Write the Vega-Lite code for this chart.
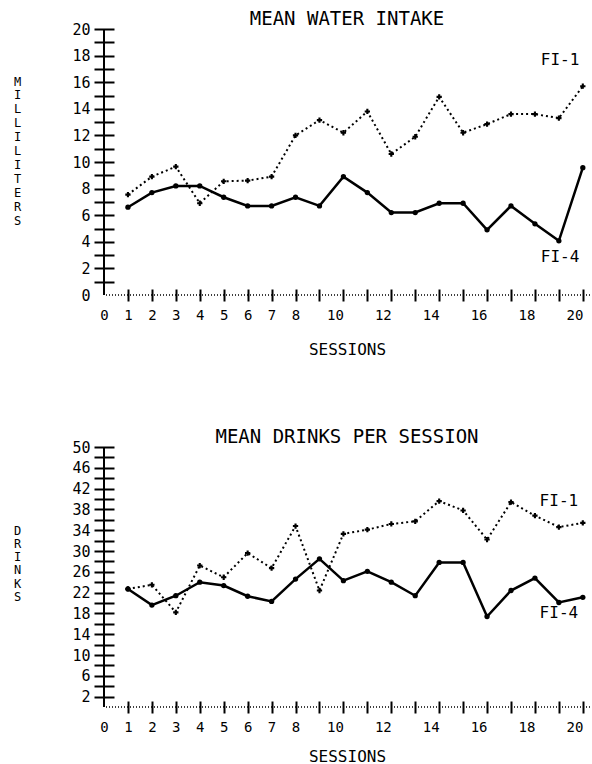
{
  "$schema": "https://vega.github.io/schema/vega-lite/v6.json",
  "padding": {"left": 13, "top": 10, "right": 0, "bottom": 0},
  "spacing": 71,
  "config": {
    "font": "DejaVu Sans Mono",
    "view": {"stroke": null},
    "title": {"font": "DejaVu Sans Mono", "fontSize": 19, "fontWeight": "normal", "color": "black", "offset": -7},
    "axis": {
      "labelFont": "DejaVu Sans Mono", "labelFontSize": 14, "labelColor": "black",
      "titleFont": "DejaVu Sans Mono", "titleFontSize": 16, "titleFontWeight": "normal", "titleColor": "black",
      "grid": false, "domain": false, "tickWidth": 2, "tickColor": "black", "labelOverlap": false, "labelFlush": false, "labelBound": false,
      "tickCount": 100, "format": "d"
    }
  },
  "datasets": {
    "water": [
      {"session": 1, "series": "FI-4", "value": 6.6},
      {"session": 2, "series": "FI-4", "value": 7.7},
      {"session": 3, "series": "FI-4", "value": 8.2},
      {"session": 4, "series": "FI-4", "value": 8.2},
      {"session": 5, "series": "FI-4", "value": 7.35},
      {"session": 6, "series": "FI-4", "value": 6.7},
      {"session": 7, "series": "FI-4", "value": 6.7},
      {"session": 8, "series": "FI-4", "value": 7.35},
      {"session": 9, "series": "FI-4", "value": 6.7},
      {"session": 10, "series": "FI-4", "value": 8.9},
      {"session": 11, "series": "FI-4", "value": 7.7},
      {"session": 12, "series": "FI-4", "value": 6.2},
      {"session": 13, "series": "FI-4", "value": 6.2},
      {"session": 14, "series": "FI-4", "value": 6.9},
      {"session": 15, "series": "FI-4", "value": 6.9},
      {"session": 16, "series": "FI-4", "value": 4.9},
      {"session": 17, "series": "FI-4", "value": 6.7},
      {"session": 18, "series": "FI-4", "value": 5.35},
      {"session": 19, "series": "FI-4", "value": 4.07},
      {"session": 20, "series": "FI-4", "value": 9.57},
      {"session": 1, "series": "FI-1", "value": 7.55},
      {"session": 2, "series": "FI-1", "value": 8.9},
      {"session": 3, "series": "FI-1", "value": 9.65},
      {"session": 4, "series": "FI-1", "value": 6.9},
      {"session": 5, "series": "FI-1", "value": 8.55},
      {"session": 6, "series": "FI-1", "value": 8.6},
      {"session": 7, "series": "FI-1", "value": 8.9},
      {"session": 8, "series": "FI-1", "value": 12.0},
      {"session": 9, "series": "FI-1", "value": 13.15},
      {"session": 10, "series": "FI-1", "value": 12.2},
      {"session": 11, "series": "FI-1", "value": 13.8},
      {"session": 12, "series": "FI-1", "value": 10.6},
      {"session": 13, "series": "FI-1", "value": 11.9},
      {"session": 14, "series": "FI-1", "value": 14.9},
      {"session": 15, "series": "FI-1", "value": 12.2},
      {"session": 16, "series": "FI-1", "value": 12.85},
      {"session": 17, "series": "FI-1", "value": 13.6},
      {"session": 18, "series": "FI-1", "value": 13.6},
      {"session": 19, "series": "FI-1", "value": 13.3},
      {"session": 20, "series": "FI-1", "value": 15.7}
    ],
    "drinks": [
      {"session": 1, "series": "FI-4", "value": 22.7},
      {"session": 2, "series": "FI-4", "value": 19.6},
      {"session": 3, "series": "FI-4", "value": 21.4},
      {"session": 4, "series": "FI-4", "value": 24.0},
      {"session": 5, "series": "FI-4", "value": 23.35},
      {"session": 6, "series": "FI-4", "value": 21.3},
      {"session": 7, "series": "FI-4", "value": 20.3},
      {"session": 8, "series": "FI-4", "value": 24.6},
      {"session": 9, "series": "FI-4", "value": 28.5},
      {"session": 10, "series": "FI-4", "value": 24.3},
      {"session": 11, "series": "FI-4", "value": 26.1},
      {"session": 12, "series": "FI-4", "value": 24.0},
      {"session": 13, "series": "FI-4", "value": 21.4},
      {"session": 14, "series": "FI-4", "value": 27.8},
      {"session": 15, "series": "FI-4", "value": 27.8},
      {"session": 16, "series": "FI-4", "value": 17.4},
      {"session": 17, "series": "FI-4", "value": 22.4},
      {"session": 18, "series": "FI-4", "value": 24.8},
      {"session": 19, "series": "FI-4", "value": 20.1},
      {"session": 20, "series": "FI-4", "value": 21.1},
      {"session": 1, "series": "FI-1", "value": 22.7},
      {"session": 2, "series": "FI-1", "value": 23.5},
      {"session": 3, "series": "FI-1", "value": 18.2},
      {"session": 4, "series": "FI-1", "value": 27.2},
      {"session": 5, "series": "FI-1", "value": 24.95},
      {"session": 6, "series": "FI-1", "value": 29.6},
      {"session": 7, "series": "FI-1", "value": 26.7},
      {"session": 8, "series": "FI-1", "value": 34.8},
      {"session": 9, "series": "FI-1", "value": 22.4},
      {"session": 10, "series": "FI-1", "value": 33.3},
      {"session": 11, "series": "FI-1", "value": 34.1},
      {"session": 12, "series": "FI-1", "value": 35.2},
      {"session": 13, "series": "FI-1", "value": 35.7},
      {"session": 14, "series": "FI-1", "value": 39.6},
      {"session": 15, "series": "FI-1", "value": 37.8},
      {"session": 16, "series": "FI-1", "value": 32.2},
      {"session": 17, "series": "FI-1", "value": 39.4},
      {"session": 18, "series": "FI-1", "value": 36.8},
      {"session": 19, "series": "FI-1", "value": 34.6},
      {"session": 20, "series": "FI-1", "value": 35.4}
    ]
  },
  "vconcat": [
    {
      "width": 486,
      "height": 266,
      "title": {"text": "MEAN WATER INTAKE"},
      "layer": [
        {
          "data": {"values": [{}]},
          "mark": {"type": "rule", "color": "black", "strokeWidth": 2},
          "encoding": {"x": {"datum": 0, "type": "quantitative", "scale": {"domain": [0, 20.3], "nice": false}}}
        },
        {
          "data": {"values": [{}]},
          "mark": {"type": "rule", "color": "black", "strokeWidth": 1.5, "strokeDash": [1, 2]},
          "encoding": {"y": {"datum": 0, "type": "quantitative", "scale": {"domain": [0, 20], "nice": false}}}
        },
        {
          "data": {"name": "water"},
          "transform": [{"filter": "datum.series == 'FI-1'"}],
          "mark": {"type": "line", "color": "black", "strokeWidth": 2, "strokeDash": [2, 3]},
          "encoding": {
            "x": {"field": "session", "type": "quantitative"},
            "y": {"field": "value", "type": "quantitative"}
          }
        },
        {
          "data": {"name": "water"},
          "transform": [{"filter": "datum.series == 'FI-1'"}],
          "mark": {"type": "point", "shape": "cross", "filled": true, "color": "black", "size": 28, "opacity": 1},
          "encoding": {
            "x": {"field": "session", "type": "quantitative"},
            "y": {"field": "value", "type": "quantitative"}
          }
        },
        {
          "data": {"name": "water"},
          "transform": [{"filter": "datum.series == 'FI-4'"}],
          "mark": {"type": "line", "color": "black", "strokeWidth": 2.5},
          "encoding": {
            "x": {
              "field": "session", "type": "quantitative",
              "axis": {
                "title": "SESSIONS", "titlePadding": 19,
                "values": [0,1,2,3,4,5,6,7,8,9,10,11,12,13,14,15,16,17,18,19,20],
                "tickCount": 100, "format": "d",
                "offset": -6, "tickSize": 12, "labelPadding": 7,
                "tickColor": {"condition": {"test": "datum.value == 0", "value": "transparent"}, "value": "black"},
                "labelAlign": {"condition": {"test": "datum.value >= 10", "value": "right"}, "value": "center"},
                "labelExpr": "datum.value <= 8 || datum.value % 2 == 0 ? datum.label : ''"
              }
            },
            "y": {
              "field": "value", "type": "quantitative",
              "axis": {
                "title": ["M","I","L","L","I","L","I","T","E","R","S"],
                "titleAngle": 0, "titleX": -97, "titleY": 47, "titleAlign": "center", "titleBaseline": "top",
                "titleFontSize": 12, "titleLineHeight": 13.9,
                "values": [0,1,2,3,4,5,6,7,8,9,10,11,12,13,14,15,16,17,18,19,20],
                "tickCount": 100, "format": "d",
                "offset": -10, "tickSize": 20, "labelPadding": 4, "labelFontSize": 15,
                "tickColor": {"condition": {"test": "datum.value == 0", "value": "transparent"}, "value": "black"},
                "labelExpr": "datum.value % 2 == 0 ? datum.label : ''"
              }
            }
          }
        },
        {
          "data": {"name": "water"},
          "transform": [{"filter": "datum.series == 'FI-4'"}],
          "mark": {"type": "point", "shape": "circle", "filled": true, "color": "black", "size": 28, "opacity": 1},
          "encoding": {
            "x": {"field": "session", "type": "quantitative"},
            "y": {"field": "value", "type": "quantitative"}
          }
        },
        {
          "data": {"values": [
            {"session": 19.05, "value": 17.7, "label": "FI-1"},
            {"session": 19.05, "value": 2.86, "label": "FI-4"}
          ]},
          "mark": {"type": "text", "font": "DejaVu Sans Mono", "fontSize": 16, "color": "black", "align": "center", "baseline": "middle"},
          "encoding": {
            "x": {"field": "session", "type": "quantitative"},
            "y": {"field": "value", "type": "quantitative"},
            "text": {"field": "label"}
          }
        }
      ]
    },
    {
      "width": 486,
      "height": 260,
      "title": {"text": "MEAN DRINKS PER SESSION"},
      "layer": [
        {
          "data": {"values": [{}]},
          "mark": {"type": "rule", "color": "black", "strokeWidth": 2},
          "encoding": {"x": {"datum": 0, "type": "quantitative", "scale": {"domain": [0, 20.3], "nice": false}}}
        },
        {
          "data": {"values": [{}]},
          "mark": {"type": "rule", "color": "black", "strokeWidth": 1.5, "strokeDash": [1, 2]},
          "encoding": {"y": {"datum": 0, "type": "quantitative", "scale": {"domain": [0, 50], "nice": false}}}
        },
        {
          "data": {"name": "drinks"},
          "transform": [{"filter": "datum.series == 'FI-1'"}],
          "mark": {"type": "line", "color": "black", "strokeWidth": 2, "strokeDash": [2, 3]},
          "encoding": {
            "x": {"field": "session", "type": "quantitative"},
            "y": {"field": "value", "type": "quantitative"}
          }
        },
        {
          "data": {"name": "drinks"},
          "transform": [{"filter": "datum.series == 'FI-1'"}],
          "mark": {"type": "point", "shape": "cross", "filled": true, "color": "black", "size": 28, "opacity": 1},
          "encoding": {
            "x": {"field": "session", "type": "quantitative"},
            "y": {"field": "value", "type": "quantitative"}
          }
        },
        {
          "data": {"name": "drinks"},
          "transform": [{"filter": "datum.series == 'FI-4'"}],
          "mark": {"type": "line", "color": "black", "strokeWidth": 2.5},
          "encoding": {
            "x": {
              "field": "session", "type": "quantitative",
              "axis": {
                "title": "SESSIONS", "titlePadding": 14,
                "values": [0,1,2,3,4,5,6,7,8,9,10,11,12,13,14,15,16,17,18,19,20],
                "tickCount": 100, "format": "d",
                "offset": -6, "tickSize": 12, "labelPadding": 7,
                "tickColor": {"condition": {"test": "datum.value == 0", "value": "transparent"}, "value": "black"},
                "labelAlign": {"condition": {"test": "datum.value >= 10", "value": "right"}, "value": "center"},
                "labelExpr": "datum.value <= 8 || datum.value % 2 == 0 ? datum.label : ''"
              }
            },
            "y": {
              "field": "value", "type": "quantitative",
              "axis": {
                "title": ["D","R","I","N","K","S"],
                "titleAngle": 0, "titleX": -97, "titleY": 78, "titleAlign": "center", "titleBaseline": "top",
                "titleFontSize": 12, "titleLineHeight": 13.3,
                "values": [2,4,6,8,10,12,14,16,18,20,22,24,26,28,30,32,34,36,38,40,42,44,46,48,50],
                "tickCount": 100, "format": "d",
                "offset": -10, "tickSize": 20, "labelPadding": 4, "labelFontSize": 15,
                "labelExpr": "(datum.value - 2) % 4 == 0 ? datum.label : ''"
              }
            }
          }
        },
        {
          "data": {"name": "drinks"},
          "transform": [{"filter": "datum.series == 'FI-4'"}],
          "mark": {"type": "point", "shape": "circle", "filled": true, "color": "black", "size": 28, "opacity": 1},
          "encoding": {
            "x": {"field": "session", "type": "quantitative"},
            "y": {"field": "value", "type": "quantitative"}
          }
        },
        {
          "data": {"values": [
            {"session": 19.0, "value": 39.6, "label": "FI-1"},
            {"session": 19.0, "value": 18.0, "label": "FI-4"}
          ]},
          "mark": {"type": "text", "font": "DejaVu Sans Mono", "fontSize": 16, "color": "black", "align": "center", "baseline": "middle"},
          "encoding": {
            "x": {"field": "session", "type": "quantitative"},
            "y": {"field": "value", "type": "quantitative"},
            "text": {"field": "label"}
          }
        }
      ]
    }
  ]
}
